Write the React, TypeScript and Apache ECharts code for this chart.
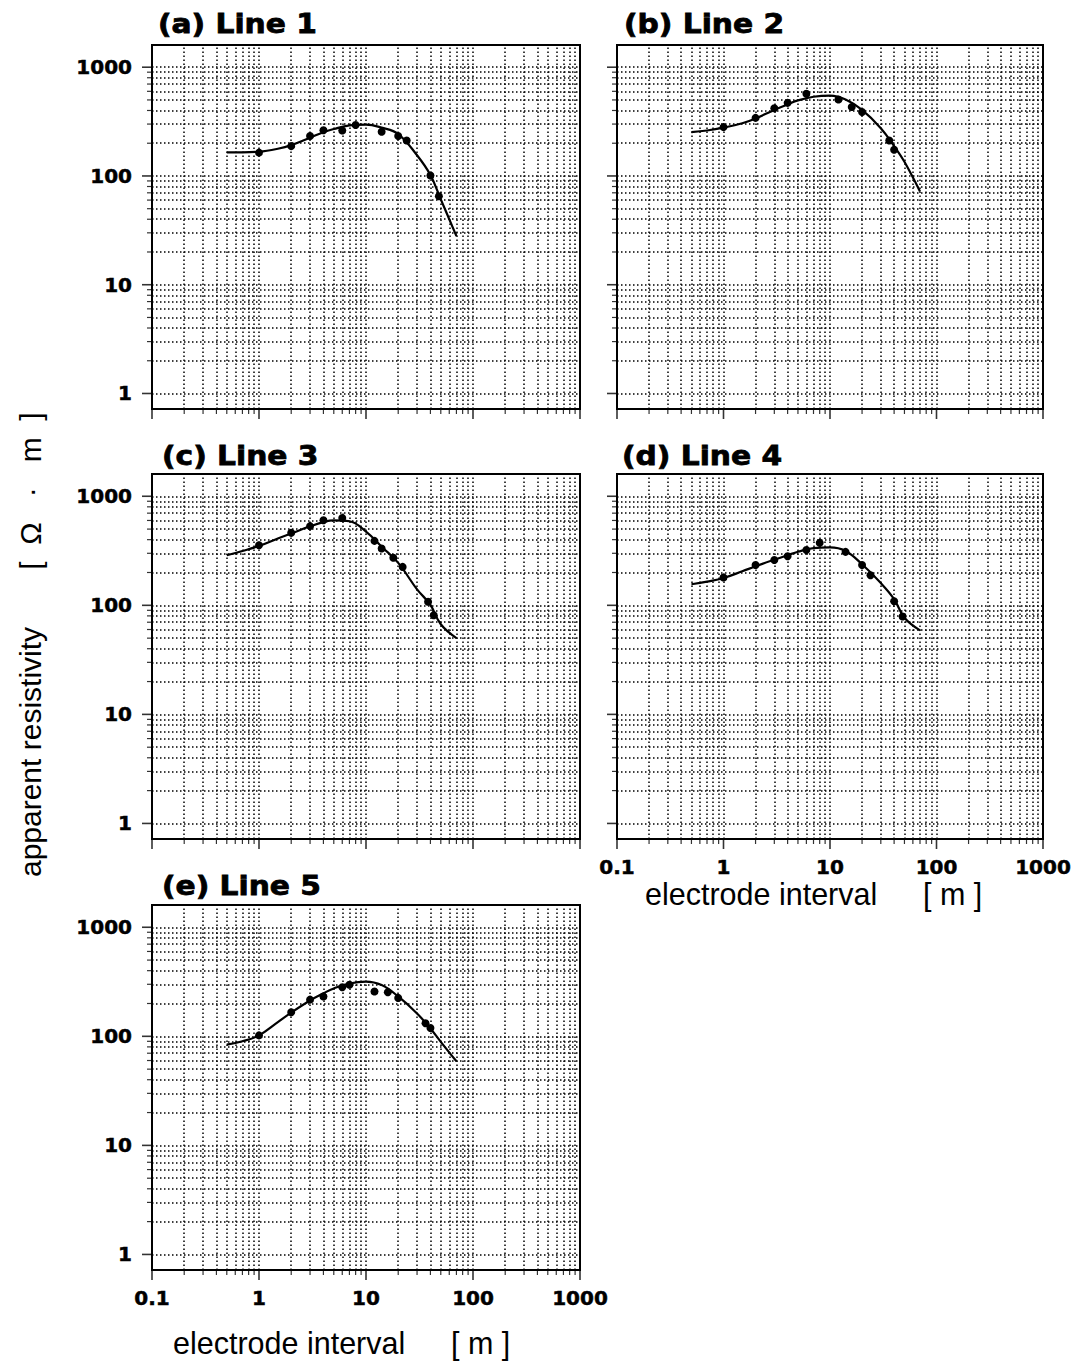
import React, { useEffect, useRef } from 'react';
import * as echarts from 'echarts';

// ---------- axes ----------
const X_MIN = 0.1;
const X_MAX = 1000;
const Y_MIN = 0.72;
const Y_MAX = 1600;
const X_DECADES = [0.1, 1, 10, 100];
const X_MAJOR = [0.1, 1, 10, 100, 1000];
const Y_DECADES = [1, 10, 100];
const Y_MAJOR = [1, 10, 100, 1000];
const MINOR_MULT = [2, 3, 4, 5, 6, 7, 8, 9];

const PANEL_TITLES = ['(a) Line 1', '(b) Line 2', '(c) Line 3', '(d) Line 4', '(e) Line 5'];
const X_AXIS_NAME = 'electrode interval';
const X_AXIS_UNIT = '[ m ]';
const Y_AXIS_NAME = 'apparent resistivity';
const Y_AXIS_UNIT = '[  Ω   ·   m  ]';

// ---------- fitted curves (x shared) ----------
const CURVE_X = [0.5, 0.7, 1, 1.5, 2, 3, 4, 5, 7, 10, 14, 20, 30, 40, 50, 70];
const CURVE_A = [165, 165, 167, 178, 192, 225, 252, 270, 292, 297, 278, 243, 155, 102, 61, 28];
const CURVE_B = [253, 262, 278, 305, 338, 405, 455, 495, 535, 548, 505, 405, 275, 188, 135, 72];
const CURVE_C = [288, 315, 350, 410, 455, 530, 580, 600, 590, 475, 345, 245, 140, 101, 67, 50];
const CURVE_D = [156, 165, 178, 205, 228, 262, 288, 310, 335, 340, 315, 238, 160, 114, 77, 59];
const CURVE_E = [84, 90, 102, 135, 165, 213, 248, 275, 305, 318, 295, 232, 162, 118, 89, 59];

// ---------- measured points ----------
const DOTS_A_X = [1, 2, 3, 4, 6, 8, 14, 20, 24, 40, 48];
const DOTS_A_Y = [164, 188, 233, 263, 262, 294, 255, 233, 212, 101, 65];
const DOTS_B_X = [1, 2, 3, 4, 6, 12, 16, 20, 36, 40];
const DOTS_B_Y = [281, 342, 420, 470, 569, 505, 430, 387, 212, 174];
const DOTS_C_X = [1, 2, 3, 4, 6, 12, 14, 18, 22, 38, 43];
const DOTS_C_Y = [356, 462, 532, 603, 633, 390, 332, 273, 225, 108, 81];
const DOTS_D_X = [1, 2, 3, 4, 6, 8, 14, 20, 24, 40, 48];
const DOTS_D_Y = [180, 234, 260, 282, 321, 374, 309, 234, 189, 109, 79];
const DOTS_E_X = [1, 2, 3, 4, 6, 7, 12, 16, 20, 36, 40];
const DOTS_E_Y = [102, 166, 217, 232, 282, 297, 258, 254, 225, 132, 119];

const CURVES = [CURVE_A, CURVE_B, CURVE_C, CURVE_D, CURVE_E];
const DOTS_X = [DOTS_A_X, DOTS_B_X, DOTS_C_X, DOTS_D_X, DOTS_E_X];
const DOTS_Y = [DOTS_A_Y, DOTS_B_Y, DOTS_C_Y, DOTS_D_Y, DOTS_E_Y];

// ---------- layout ----------
const PANELS = [
  { left: 152, top: 45, width: 428, height: 364, xLabels: false, yLabels: true, tx: 158, ty: 24 },
  { left: 617, top: 45, width: 426, height: 364, xLabels: false, yLabels: false, tx: 624, ty: 24 },
  { left: 152, top: 474, width: 428, height: 365, xLabels: false, yLabels: true, tx: 162, ty: 456 },
  { left: 617, top: 474, width: 426, height: 365, xLabels: true, yLabels: false, tx: 622, ty: 456 },
  { left: 152, top: 905, width: 428, height: 365, xLabels: true, yLabels: true, tx: 162, ty: 886 },
];

const isPow10 = (v: number) => {
  const l = Math.log10(v);
  return Math.abs(l - Math.round(l)) < 1e-6;
};

const TICK_FONT = {
  fontFamily: '"DejaVu Sans"', fontWeight: 'bold' as const, fontSize: 20, color: '#000',
  textBorderColor: '#000', textBorderWidth: 0.5, lineHeight: 14,
};
const SANS = 'Arial, "Liberation Sans", sans-serif';

function buildOption() {
  const xMinor: number[] = [];
  X_DECADES.forEach((d) => MINOR_MULT.forEach((m) => xMinor.push(+(d * m).toPrecision(6))));
  const yMinor: number[] = [];
  Y_DECADES.forEach((d) => MINOR_MULT.forEach((m) => yMinor.push(+(d * m).toPrecision(6))));

  const vLines = [...xMinor, 1, 10, 100].map((v) => ({ xAxis: v }));
  const hLines = [...yMinor, ...Y_MAJOR].map((v) => ({ yAxis: v }));

  const tickItems: any[] = [];
  xMinor.forEach((x) => tickItems.push({ value: [x, Y_MIN], symbolSize: [1.2, 5], symbolOffset: [0, 2.5] }));
  X_MAJOR.forEach((x) => tickItems.push({ value: [x, Y_MIN], symbolSize: [1.6, 10], symbolOffset: [0, 5] }));
  yMinor.forEach((y) => tickItems.push({ value: [X_MIN, y], symbolSize: [5, 1.2], symbolOffset: [-2.5, 0] }));
  Y_MAJOR.forEach((y) => tickItems.push({ value: [X_MIN, y], symbolSize: [10, 1.6], symbolOffset: [-5, 0] }));

  const grid = PANELS.map((p) => ({
    left: p.left, top: p.top, width: p.width, height: p.height,
    show: true, borderColor: '#000', borderWidth: 2, backgroundColor: 'transparent', containLabel: false,
  }));

  const xAxis = PANELS.map((p, i) => ({
    type: 'log', logBase: 10, gridIndex: i, min: X_MIN, max: X_MAX,
    axisLine: { show: false }, axisTick: { show: false }, splitLine: { show: false },
    axisLabel: {
      show: p.xLabels, margin: 21, ...TICK_FONT,
      formatter: (v: number) => (isPow10(v) ? String(v) : ''),
    },
  }));

  const yAxis = PANELS.map((p, i) => ({
    type: 'log', logBase: 10, gridIndex: i, min: Y_MIN, max: Y_MAX,
    axisLine: { show: false }, axisTick: { show: false }, splitLine: { show: false },
    axisLabel: {
      show: p.yLabels, margin: 20, ...TICK_FONT,
      formatter: (v: number) => (isPow10(v) ? String(v) : ''),
    },
  }));

  const series: any[] = [];
  PANELS.forEach((p, i) => {
    series.push({
      type: 'scatter', xAxisIndex: i, yAxisIndex: i, data: tickItems, symbol: 'rect',
      clip: false, silent: true, itemStyle: { color: '#000' }, z: 3,
      markLine: {
        silent: true, symbol: ['none', 'none'], label: { show: false },
        lineStyle: { color: '#000', width: 1.5, type: [1.5, 2.5], opacity: 1 },
        emphasis: { disabled: true },
        data: [...vLines, ...hLines],
      },
    });
    series.push({
      type: 'line', xAxisIndex: i, yAxisIndex: i,
      data: CURVE_X.map((x, k) => [x, CURVES[i][k]]),
      smooth: 0.4, showSymbol: false, symbol: 'none',
      lineStyle: { color: '#000', width: 2.2 }, z: 5, silent: true,
    });
    series.push({
      type: 'scatter', xAxisIndex: i, yAxisIndex: i,
      data: DOTS_X[i].map((x, k) => [x, DOTS_Y[i][k]]),
      symbol: 'circle', symbolSize: 8, itemStyle: { color: '#000', opacity: 1 }, z: 6, silent: true,
    });
  });

  const graphic: any[] = [];
  PANELS.forEach((p, i) => {
    graphic.push({
      type: 'text', x: p.tx, y: p.ty, scaleX: 1.1,
      style: {
        text: PANEL_TITLES[i], fontFamily: '"DejaVu Sans"', fontWeight: 'bold', fontSize: 27,
        fill: '#000', stroke: '#000', lineWidth: 0.8, align: 'left', verticalAlign: 'middle',
      },
    });
  });
  // x-axis names under (d) and (e)
  [
    { x1: 645, x2: 923, y: 894 },
    { x1: 173, x2: 451, y: 1343 },
  ].forEach((o) => {
    graphic.push({
      type: 'text', x: o.x1, y: o.y,
      style: { text: X_AXIS_NAME, fontFamily: SANS, fontSize: 30.5, lineHeight: 24, fill: '#000', align: 'left', verticalAlign: 'middle' },
    });
    graphic.push({
      type: 'text', x: o.x2, y: o.y,
      style: { text: X_AXIS_UNIT, fontFamily: SANS, fontSize: 30.5, lineHeight: 24, fill: '#000', align: 'left', verticalAlign: 'middle' },
    });
  });
  // y-axis name
  graphic.push({
    type: 'text', x: 30, y: 752, rotation: Math.PI / 2,
    style: { text: Y_AXIS_NAME, fontFamily: SANS, fontSize: 30, fill: '#000', align: 'center', verticalAlign: 'middle' },
  });
  graphic.push({
    type: 'text', x: 30, y: 491, rotation: Math.PI / 2,
    style: { text: Y_AXIS_UNIT, fontFamily: SANS, fontSize: 30, fill: '#000', align: 'center', verticalAlign: 'middle' },
  });

  return {
    animation: false,
    backgroundColor: '#fff',
    grid, xAxis, yAxis, series, graphic,
  };
}

export default function App() {
  const ref = useRef<HTMLDivElement>(null);
  useEffect(() => {
    if (!ref.current) return;
    const chart = echarts.init(ref.current, null, { renderer: 'svg' });
    chart.setOption(buildOption() as any);
    return () => chart.dispose();
  }, []);
  return (
    <div
      ref={ref}
      style={{ position: 'fixed', left: 0, top: 0, width: 1076, height: 1365, background: '#fff' }}
    />
  );
}
